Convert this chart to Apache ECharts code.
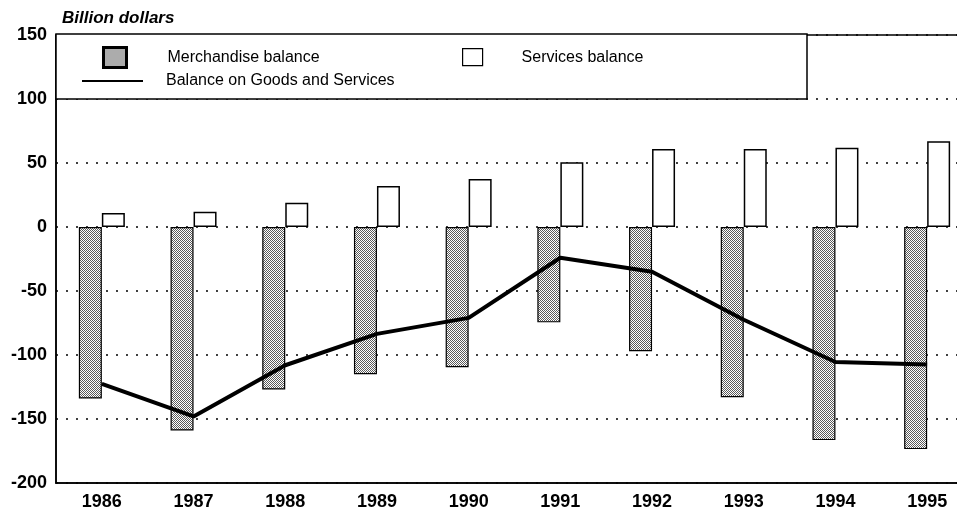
<!DOCTYPE html>
<html>
<head>
<meta charset="utf-8">
<script src="https://cdn.jsdelivr.net/npm/echarts@6/dist/echarts.min.js"></script>
<style>
html,body{margin:0;padding:0;background:#fff;overflow:hidden;width:957px;height:514px;}
#c{width:973px;height:514px;}
</style>
</head>
<body>
<div id="c"></div>
<script>
const years = ['1986','1987','1988','1989','1990','1991','1992','1993','1994','1995'];
const merchandise = [-134, -159, -127, -115, -109.5, -74.5, -97, -133, -166.5, -173.5];
const services = [11, 12, 19, 32, 37.5, 50.5, 61, 61, 62, 67];
const goodsServices = [-122.5, -148, -108, -83.5, -71, -24, -35, -72.5, -105.5, -107.5];
const yTicks = { min: -200, max: 150, interval: 50 };
const unitLabel = 'Billion dollars';

const FONT = "'Liberation Sans', Arial, sans-serif";

// dotted pattern fill
const pc = document.createElement('canvas');
pc.width = 2; pc.height = 2;
const pctx = pc.getContext('2d');
pctx.fillStyle = '#fff'; pctx.fillRect(0,0,2,2);
pctx.fillStyle = '#5a5a5a';
pctx.fillRect(0,0,1,1); pctx.fillRect(1,1,1,1);
const pattern = { image: pc, repeat: 'repeat' };

const chart = echarts.init(document.getElementById('c'), null, {renderer:'canvas'});
const legendText = { fontFamily: FONT, fontSize: 16, color: '#000' };
chart.setOption({
  animation: false,
  backgroundColor: '#fff',
  title: {
    text: unitLabel, left: 62, top: 10, padding: 0,
    textStyle: { fontFamily: FONT, fontSize: 17, fontWeight: 'bold', fontStyle: 'italic', color: '#000' }
  },
  grid: { left: 56, right: 0, top: 35, bottom: 31, show: true, borderColor: '#000', borderWidth: 1.5, backgroundColor: 'transparent' },
  graphic: [
    { type: 'rect', z: 3, shape: { x: 56, y: 34, width: 751, height: 65 },
      style: { fill: '#fff', stroke: '#000', lineWidth: 1.5 } }
  ],
  legend: [
    { z: 6, left: 102, top: 46, padding: 0, itemWidth: 23, itemHeight: 20, icon: 'rect',
      data: [{ name: 'Merchandise balance', itemStyle: { borderWidth: 3, borderColor: '#000' } }],
      textStyle: Object.assign({ padding: [0,0,0,36] }, legendText) },
    { z: 6, left: 462, top: 48, padding: 0, itemWidth: 20, itemHeight: 17, icon: 'rect',
      data: [{ name: 'Services balance', itemStyle: { borderWidth: 1.2, borderColor: '#000' } }],
      textStyle: Object.assign({ padding: [0,0,0,34] }, legendText) },
    { z: 6, left: 82, top: 73, padding: 0, itemWidth: 61, itemHeight: 2,
      data: [{ name: 'Balance on Goods and Services', icon: 'path://M0 0H61V2H0Z' }],
      textStyle: Object.assign({ padding: [0,0,0,18] }, legendText) }
  ],
  xAxis: {
    type: 'category', data: years,
    axisLine: { onZero: false, lineStyle: { color: '#000', width: 1.5 } },
    axisTick: { show: false },
    axisLabel: { fontFamily: FONT, fontSize: 18, fontWeight: 'bold', color: '#000', margin: 10 },
    splitLine: { show: false }
  },
  yAxis: {
    type: 'value', min: yTicks.min, max: yTicks.max, interval: yTicks.interval,
    axisLine: { show: true, lineStyle: { color: '#000', width: 1.5 } },
    axisTick: { show: false },
    axisLabel: { fontFamily: FONT, fontSize: 18, fontWeight: 'bold', color: '#000', margin: 9 },
    splitLine: { show: true, lineStyle: { color: '#000', width: 1.5, type: [2, 8] } }
  },
  series: [
    { name: 'Merchandise balance', type: 'bar', data: merchandise, barWidth: 23, barGap: '0%',
      itemStyle: { color: pattern, borderColor: '#000', borderWidth: 1.2 }, z: 2 },
    { name: 'Services balance', type: 'bar', data: services, barWidth: 23, barGap: '0%',
      itemStyle: { color: '#fff', borderColor: '#000', borderWidth: 1.5 }, z: 2 },
    { name: 'Balance on Goods and Services', type: 'line', data: goodsServices,
      symbol: 'none', lineStyle: { color: '#000', width: 4 }, itemStyle: { color: '#000' }, z: 4 }
  ]
});
</script>
</body>
</html>
